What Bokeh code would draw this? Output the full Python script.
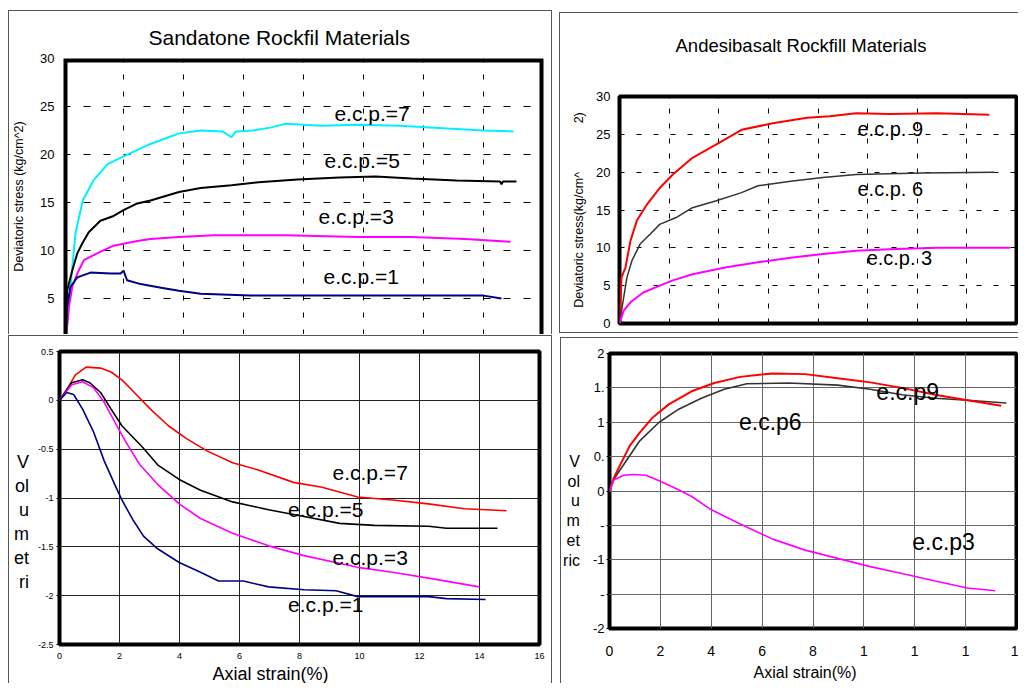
from bokeh.plotting import figure
from bokeh.models import Label, BoxAnnotation, FixedTicker, Range1d, Title, LinearAxis
from bokeh.layouts import column, row
from bokeh.embed import file_html
from bokeh.resources import INLINE

# ---------------- data ----------------
# Sandstone rockfill: deviatoric stress (kg/cm^2) vs axial strain (%)
sand_q7_strain = [0.05, 0.1, 0.22, 0.4, 0.64, 1.0, 1.47, 2.07, 2.9, 3.85, 4.57, 5.3, 5.6, 5.75, 6.3, 6.9, 7.4, 8.6, 9.8, 11.2, 12.8, 14.0, 15.0]
sand_q7_stress = [0.0, 1.35, 5.8, 11.8, 15.2, 17.3, 19.0, 19.9, 21.1, 22.2, 22.5, 22.4, 21.8, 22.4, 22.5, 22.8, 23.2, 23.0, 23.1, 23.0, 22.7, 22.5, 22.4]
sand_q5_strain = [0.0, 0.07, 0.12, 0.29, 0.46, 0.62, 0.84, 1.23, 1.67, 2.0, 2.46, 2.9, 3.85, 4.57, 5.6, 6.5, 7.8, 9.2, 10.4, 11.6, 13.1, 14.55, 14.6, 14.65, 15.1]
sand_q5_stress = [0.0, 1.35, 5.8, 7.9, 9.7, 10.7, 11.9, 13.1, 13.6, 14.2, 14.9, 15.2, 16.1, 16.5, 16.8, 17.1, 17.4, 17.6, 17.7, 17.5, 17.3, 17.2, 16.9, 17.2, 17.2]
sand_q3_strain = [0.0, 0.1, 0.18, 0.29, 0.46, 0.68, 1.12, 1.67, 2.46, 2.9, 3.85, 5.0, 7.4, 9.8, 11.6, 13.4, 14.9]
sand_q3_stress = [0.0, 1.5, 4.1, 6.2, 7.6, 9.0, 9.7, 10.5, 11.0, 11.2, 11.4, 11.6, 11.6, 11.4, 11.4, 11.2, 10.9]
sand_q1_strain = [0.0, 0.07, 0.12, 0.23, 0.46, 0.9, 1.57, 1.9, 2.0, 2.12, 2.57, 3.3, 3.85, 4.57, 6.23, 9.8, 14.0, 14.6]
sand_q1_stress = [0.0, 1.7, 4.1, 6.2, 7.2, 7.7, 7.6, 7.6, 7.9, 6.9, 6.5, 6.1, 5.8, 5.5, 5.3, 5.3, 5.3, 5.0]

# Andesibasalt rockfill: deviatoric stress vs axial strain
ande_q9_strain = [0.0, 0.08, 0.24, 0.44, 0.7, 1.1, 1.62, 2.15, 2.94, 3.87, 4.92, 6.24, 7.56, 8.48, 9.54, 10.9, 12.8, 14.9]
ande_q9_stress = [0.0, 6.1, 7.4, 10.9, 13.6, 15.7, 17.9, 19.7, 21.9, 23.6, 25.6, 26.5, 27.2, 27.4, 27.8, 27.7, 27.8, 27.6]
ande_q6_strain = [0.0, 0.3, 0.5, 0.83, 1.23, 1.62, 2.28, 2.94, 3.87, 4.92, 5.58, 6.9, 8.2, 9.54, 12.2, 15.1]
ande_q6_stress = [0.0, 6.1, 8.3, 10.5, 11.8, 13.1, 14.0, 15.3, 16.2, 17.3, 18.2, 18.8, 19.3, 19.7, 19.9, 20.0]
ande_q3_strain = [0.0, 0.17, 0.44, 0.96, 1.62, 2.15, 2.94, 4.26, 5.58, 6.9, 8.2, 9.54, 10.86, 12.84, 15.75]
ande_q3_stress = [0.0, 1.7, 2.8, 4.1, 5.0, 5.7, 6.5, 7.4, 8.1, 8.7, 9.2, 9.6, 9.8, 10.0, 10.0]

# Sandstone rockfill: volumetric strain vs axial strain
sand_v7_strain = [0.0, 0.3, 0.53, 0.89, 1.37, 1.72, 2.08, 2.56, 3.03, 3.63, 4.22, 4.93, 5.77, 6.6, 7.8, 8.75, 9.94, 11.1, 12.3, 13.5, 14.9]
sand_v7_vol = [0.0, 0.14, 0.26, 0.34, 0.33, 0.29, 0.21, 0.06, -0.09, -0.26, -0.39, -0.52, -0.64, -0.71, -0.84, -0.89, -0.99, -1.02, -1.06, -1.11, -1.13]
sand_v5_strain = [0.0, 0.41, 0.77, 1.01, 1.37, 1.72, 2.08, 2.8, 3.27, 3.99, 4.7, 5.77, 6.97, 8.15, 9.34, 10.5, 12.3, 12.9, 14.6]
sand_v5_vol = [0.0, 0.18, 0.21, 0.18, 0.08, -0.09, -0.26, -0.49, -0.66, -0.81, -0.92, -1.04, -1.12, -1.19, -1.26, -1.28, -1.29, -1.31, -1.31]
sand_v3_strain = [0.0, 0.41, 0.77, 1.13, 1.49, 1.84, 2.2, 2.68, 3.27, 3.99, 4.7, 5.77, 6.97, 8.15, 9.94, 11.1, 12.3, 14.0]
sand_v3_vol = [0.0, 0.16, 0.19, 0.13, -0.02, -0.22, -0.42, -0.66, -0.86, -1.06, -1.21, -1.36, -1.49, -1.59, -1.71, -1.76, -1.82, -1.91]
sand_v1_strain = [0.0, 0.24, 0.47, 0.77, 1.13, 1.49, 1.84, 2.08, 2.44, 2.8, 3.27, 3.99, 4.7, 5.3, 6.13, 6.97, 8.15, 9.22, 9.94, 12.3, 12.9, 14.2]
sand_v1_vol = [0.0, 0.08, 0.06, -0.09, -0.32, -0.62, -0.86, -1.02, -1.22, -1.39, -1.52, -1.66, -1.76, -1.85, -1.85, -1.91, -1.94, -1.95, -2.01, -2.01, -2.03, -2.04]

# Andesibasalt rockfill: volumetric strain vs axial strain
ande_v9_strain = [0.0, 0.17, 0.42, 0.8, 1.19, 1.7, 2.33, 3.23, 4.12, 5.14, 6.42, 7.69, 8.97, 10.25, 11.5, 12.8, 14.07, 15.4]
ande_v9_vol = [0.0, 0.19, 0.38, 0.66, 0.85, 1.07, 1.26, 1.45, 1.57, 1.66, 1.71, 1.70, 1.64, 1.58, 1.50, 1.40, 1.32, 1.24]
ande_v6_strain = [0.0, 0.17, 0.68, 1.19, 1.95, 2.72, 3.61, 4.51, 5.4, 7.06, 8.97, 10.25, 11.5, 12.8, 14.07, 15.6]
ande_v6_vol = [0.0, 0.17, 0.45, 0.73, 1.0, 1.19, 1.35, 1.48, 1.56, 1.57, 1.54, 1.48, 1.40, 1.35, 1.32, 1.28]
ande_v3_strain = [0.0, 0.17, 0.55, 0.93, 1.44, 1.95, 2.59, 3.23, 3.99, 5.14, 6.42, 7.69, 8.97, 10.25, 11.5, 12.8, 14.07, 15.16]
ande_v3_vol = [0.0, 0.16, 0.23, 0.24, 0.23, 0.15, 0.04, -0.08, -0.27, -0.48, -0.70, -0.86, -0.98, -1.10, -1.20, -1.31, -1.41, -1.45]

strain_ticks = [0, 2, 4, 6, 8, 10, 12, 14, 16]
stress_ticks = [0, 5, 10, 15, 20, 25, 30]
sand_vol_ticks = [-2.5, -2.0, -1.5, -1.0, -0.5, 0.0, 0.5]
sand_vol_labels = ["-2.5", "-2", "-1.5", "-1", "-0.5", "0", "0.5"]
ande_vol_ticks = [-2.0, -1.5, -1.0, -0.5, 0.0, 0.5, 1.0, 1.5, 2.0]
ande_vol_labels = ["-2", "-", "-1", "-", "0", "0.", "1", "1.", "2"]
ande_strain_labels = ["0", "2", "4", "6", "8", "1", "1", "1", "1"]

FONT = "Liberation Sans"
NBSP = "\u00a0"

CYAN = "#00f0ff"
MAGENTA = "#ff00ff"
NAVY = "#000080"
RED = "#ff0000"
DGRAY = "#333333"

HAS_FRAME_ALIGN = "frame_align" in figure.properties()
HAS_LABEL_ORIENT = "axis_label_orientation" in LinearAxis.properties()

EDGE = {"left": "inset 1px 0 0 #555555", "top": "inset 0 1px 0 #555555",
        "right": "inset -1px 0 0 #555555", "bottom": "inset 0 -1px 0 #555555"}


def base_fig(w, h, bl, br, bt, bb, yr, margin, edges):
    p = figure(width=w, height=h, min_border_left=bl, min_border_right=br,
               min_border_top=bt, min_border_bottom=bb, x_range=Range1d(0, 16),
               y_range=Range1d(*yr), output_backend="svg", toolbar_location=None,
               background_fill_color="white", border_fill_color=None,
               margin=margin,
               styles={"box-shadow": ", ".join(EDGE[e] for e in edges),
                       "background-color": "white"})
    if HAS_FRAME_ALIGN:
        p.frame_align = False
    p.axis.axis_line_color = None
    p.axis.major_tick_in = 0
    p.axis.minor_tick_line_color = None
    p.axis.major_label_text_color = "black"
    p.axis.major_label_text_font = FONT
    p.axis.axis_label_text_font = FONT
    p.axis.axis_label_text_font_style = "normal"
    p.axis.axis_label_text_color = "black"
    p.outline_line_color = "black"
    p.outline_line_width = 4
    return p


def label(p, x, y, text, size, align="left"):
    p.add_layout(Label(x=x, y=y, text=text, text_font=FONT, text_font_size=f"{size}px",
                       text_align=align, text_baseline="middle", text_color="black"))


def title(p, text, size, offset, standoff, place):
    p.add_layout(Title(text=text, align="left", offset=offset, standoff=standoff,
                       text_font=FONT, text_font_size=f"{size}px",
                       text_font_style="normal", text_color="black"), place)


def stacked_ylabel(p, words, size, standoff, line_height, positions):
    if HAS_LABEL_ORIENT:
        # two blank lines on top push the centred word stack down, as in the original
        p.yaxis.axis_label = "\n".join([NBSP, NBSP] + words)
        p.yaxis.axis_label_orientation = "horizontal"
        p.yaxis.axis_label_text_font_size = f"{size}px"
        p.yaxis.axis_label_text_align = "center"
        p.yaxis.axis_label_text_line_height = line_height
        p.yaxis.axis_label_standoff = standoff
    else:
        ax = LinearAxis(ticker=FixedTicker(ticks=positions),
                        major_label_overrides=dict(zip(positions, words)),
                        axis_line_color=None, major_tick_line_color=None,
                        minor_tick_line_color=None, major_label_standoff=standoff,
                        major_label_text_font=FONT, major_label_text_font_size=f"{size}px",
                        major_label_text_color="black")
        p.add_layout(ax, "left")


# ---------------- top left: sandstone, deviatoric stress ----------------
tl = base_fig(544, 324, 55, 9, 48, 0, (1.25, 30), (10, 0, 0, 8), ("left", "top", "right"))
tl.outline_line_color = None
tl.xaxis.visible = False
tl.xaxis.ticker = FixedTicker(ticks=strain_ticks)
tl.yaxis.ticker = FixedTicker(ticks=stress_ticks)
tl.yaxis.major_tick_out = 0
tl.yaxis.major_label_standoff = 9
tl.yaxis.major_label_text_font_size = "13px"
tl.yaxis.axis_label = "Deviatoric stress (kg/cm^2)"
tl.yaxis.axis_label_text_font_size = "12.5px"
tl.yaxis.axis_label_standoff = 11
tl.xgrid.ticker = FixedTicker(ticks=strain_ticks[1:-1])
tl.ygrid.ticker = FixedTicker(ticks=stress_ticks[1:-1])
tl.xgrid.grid_line_color = "black"
tl.ygrid.grid_line_color = "black"
tl.xgrid.grid_line_dash = "5 12"
tl.ygrid.grid_line_dash = "7 13"
# thick frame on left/top/right (the bottom is hidden by the panel below)
tl.add_layout(BoxAnnotation(left=0, right=16, top=30, bottom=-20, fill_color=None,
                            fill_alpha=0, line_color="black", line_alpha=1.0,
                            line_width=8))
tl.line(sand_q7_strain, sand_q7_stress, line_color=CYAN, line_width=2)
tl.line(sand_q5_strain, sand_q5_stress, line_color="black", line_width=2)
tl.line(sand_q3_strain, sand_q3_stress, line_color=MAGENTA, line_width=2)
tl.line(sand_q1_strain, sand_q1_stress, line_color=NAVY, line_width=2)
title(tl, "Sandatone Rockfil Materials", 21, 85, 20, "above")
label(tl, 9.03, 24.27, "e.c.p.=7", 21)
label(tl, 8.7, 19.38, "e.c.p.=5", 21)
label(tl, 8.5, 13.54, "e.c.p.=3", 21)
label(tl, 8.67, 7.29, "e.c.p.=1", 21)

# ---------------- top right: andesibasalt, deviatoric stress ----------------
tr = base_fig(459, 321, 60, 2, 83, 10, (0, 30), (12, 0, 0, 7), ("left", "top", "bottom"))
tr.xaxis.visible = False
tr.xaxis.ticker = FixedTicker(ticks=strain_ticks)
tr.yaxis.ticker = FixedTicker(ticks=stress_ticks)
tr.yaxis.major_tick_out = 0
tr.yaxis.major_label_standoff = 9
tr.yaxis.major_label_text_font_size = "13px"
tr.yaxis.axis_label = "Deviatoric stress(kg/cm^" + NBSP * 14 + "2)"
tr.yaxis.axis_label_text_font_size = "12.5px"
tr.yaxis.axis_label_standoff = 7
tr.xgrid.ticker = FixedTicker(ticks=strain_ticks[1:-1])
tr.ygrid.ticker = FixedTicker(ticks=stress_ticks[1:-1])
tr.xgrid.grid_line_color = "black"
tr.ygrid.grid_line_color = "black"
tr.xgrid.grid_line_dash = "5 10"
tr.ygrid.grid_line_dash = "5 12"
tr.line(ande_q9_strain, ande_q9_stress, line_color=RED, line_width=2)
tr.line(ande_q6_strain, ande_q6_stress, line_color=DGRAY, line_width=1.5)
tr.line(ande_q3_strain, ande_q3_stress, line_color=MAGENTA, line_width=2)
# a blank second line lifts the title well above the frame, as in the original
title(tr, "Andesibasalt Rockfill Materials\n" + NBSP, 18.5, 56, 40, "above")
label(tr, 9.59, 25.66, "e.c.p. 9", 20)
label(tr, 9.59, 17.76, "e.c.p. 6", 20)
label(tr, 9.96, 8.68, "e.c.p. 3", 20)

# ---------------- bottom left: sandstone, volumetric strain ----------------
bl = base_fig(544, 348, 51, 13, 16, 37, (-2.5, 0.5), (1, 0, 0, 8), ("left", "top", "right"))
bl.xaxis.ticker = FixedTicker(ticks=strain_ticks)
bl.yaxis.ticker = FixedTicker(ticks=sand_vol_ticks)
bl.yaxis.major_label_overrides = dict(zip(sand_vol_ticks, sand_vol_labels))
bl.xaxis.major_tick_out = 0
bl.xaxis.major_label_standoff = 8
bl.yaxis.major_tick_out = 3
bl.yaxis.major_label_standoff = 3
bl.axis.major_label_text_font_size = "9px"
bl.xgrid.ticker = FixedTicker(ticks=strain_ticks[1:-1])
bl.ygrid.ticker = FixedTicker(ticks=sand_vol_ticks[1:-1])
bl.grid.grid_line_color = "#222222"
bl.line(sand_v7_strain, sand_v7_vol, line_color=RED, line_width=1.6)
bl.line(sand_v5_strain, sand_v5_vol, line_color="black", line_width=1.6)
bl.line(sand_v3_strain, sand_v3_vol, line_color=MAGENTA, line_width=1.6)
bl.line(sand_v1_strain, sand_v1_vol, line_color=NAVY, line_width=1.6)
label(bl, 9.1, -0.74, "e.c.p.=7", 21)
label(bl, 7.62, -1.12, "e.c.p.=5", 21)
label(bl, 9.1, -1.61, "e.c.p.=3", 21)
label(bl, 7.62, -2.09, "e.c.p.=1", 21)
title(bl, "Axial strain(%)", 18, 153, 0, "below")
stacked_ylabel(bl, ["V", "ol", "u", "m", "et", "ri"], 18, 6, 1.2,
               [-0.62, -0.86, -1.09, -1.31, -1.54, -1.76])

# ---------------- bottom right: andesibasalt, volumetric strain ----------------
br = base_fig(458, 346, 49, 2, 16, 53, (-2, 2), (3, 0, 0, 8), ("left", "top"))
br.xaxis.ticker = FixedTicker(ticks=strain_ticks)
br.xaxis.major_label_overrides = dict(zip(strain_ticks, ande_strain_labels))
br.yaxis.ticker = FixedTicker(ticks=ande_vol_ticks)
br.yaxis.major_label_overrides = dict(zip(ande_vol_ticks, ande_vol_labels))
br.xaxis.major_tick_out = 0
br.xaxis.major_label_standoff = 17
br.yaxis.major_tick_out = 3
br.yaxis.major_label_standoff = 2
br.xaxis.major_label_text_font_size = "14px"
br.yaxis.major_label_text_font_size = "13px"
br.xgrid.ticker = FixedTicker(ticks=strain_ticks[1:-1])
br.ygrid.ticker = FixedTicker(ticks=ande_vol_ticks[1:-1])
br.grid.grid_line_color = "#666666"
br.line(ande_v6_strain, ande_v6_vol, line_color=DGRAY, line_width=1.6)
br.line(ande_v9_strain, ande_v9_vol, line_color=RED, line_width=2)
br.line(ande_v3_strain, ande_v3_vol, line_color=MAGENTA, line_width=1.6)
label(br, 10.49, 1.44, "e.c.p9", 23)
label(br, 5.09, 1.0, "e.c.p6", 23)
label(br, 11.9, -0.74, "e.c.p3", 23)
title(br, "Axial strain(%)", 16, 144, 6, "below")
stacked_ylabel(br, ["V", "ol", "u", "m", "et", "ric"], 16, 10, 1.17,
               [0.47, 0.19, -0.1, -0.39, -0.66, -0.94])

layout = column(row(tl, tr), row(bl, br))
open("out.html", "w").write(file_html(layout, INLINE))
